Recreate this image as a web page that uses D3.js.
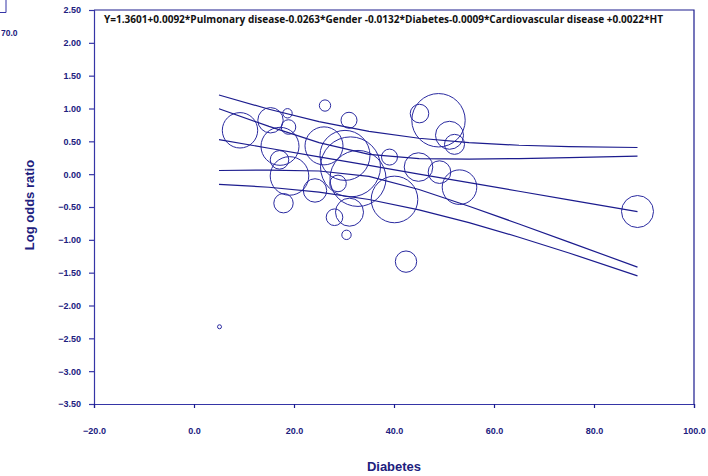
<!DOCTYPE html>
<html>
<head>
<meta charset="utf-8">
<script src="https://cdn.jsdelivr.net/npm/d3@7"></script>
<style>
  html, body { margin: 0; padding: 0; background: #fff; }
  svg { display: block; }
</style>
</head>
<body>
<svg id="chart" width="708" height="476"></svg>
<script>
// ---------- data ----------
const diabetesPct = [9.2, 15.3, 18.7, 18.9, 17.2, 17.1, 19.1, 17.9, 5.1, 26.2, 31.0, 26.0, 30.2, 31.3, 32.8, 28.8,
                     24.2, 31.1, 28.1, 30.5, 39.1, 40.1, 44.9, 49.1, 53.1, 42.4, 45.1, 48.9, 51.1, 52.1, 88.7];
const logOdds     = [0.668, 0.821, 0.927, 0.718, 0.424, 0.218, -0.027, -0.442, -2.324, 1.045, 0.821, 0.431, 0.286, 0.111, -0.065, -0.141,
                     -0.248, -0.579, -0.656, -0.924, 0.260, -0.385, 0.108, 0.031, -0.198, -1.332, 0.923, 0.821, 0.592, 0.454, -0.569];
const studyWeight = [31.3, 16.1, 2.2, 5.3, 36.1, 8.6, 37.2, 9.4, 0.4, 3.2, 6.4, 36.1, 62.5, 90, 78.4, 6.9,
                     13.7, 19.6, 6.9, 2.2, 6.4, 54.3, 20.4, 12.8, 29.9, 11.4, 8.6, 71.3, 19.6, 10, 25.6];

// regression line and bands at sampled Diabetes values
const bandX   = [5, 15, 25, 35, 45, 55, 65, 75, 88.7];
const fitted  = [0.526, 0.395, 0.264, 0.133, 0.002, -0.129, -0.260, -0.391, -0.571];
const upperPI = [1.206, 0.989, 0.801, 0.652, 0.547, 0.480, 0.440, 0.418, 0.406];
const upperCI = [0.996, 0.728, 0.480, 0.301, 0.238, 0.230, 0.238, 0.252, 0.274];
const lowerCI = [0.056, 0.062, 0.048, -0.035, -0.234, -0.488, -0.758, -1.034, -1.416];
const lowerPI = [-0.154, -0.199, -0.273, -0.386, -0.543, -0.738, -0.960, -1.200, -1.548];

const xTicks = [-20, 0, 20, 40, 60, 80, 100];
const yTicks = [2.5, 2.0, 1.5, 1.0, 0.5, 0.0, -0.5, -1.0, -1.5, -2.0, -2.5, -3.0, -3.5];

const equation = "Y=1.3601+0.0092*Pulmonary disease-0.0263*Gender -0.0132*Diabetes-0.0009*Cardiovascular disease +0.0022*HT";
const xTitle = "Diabetes";
const yTitle = "Log odds ratio";
const strayLabel = "70.0";

// ---------- drawing ----------
const svg = d3.select("#chart");
const L = 94, R = 694, T = 10, B = 404;
const navy = "#1c1c8e";
const axisCol = "#3535a6";
const labelCol = "#20207e";

const x = d3.scaleLinear().domain([-20, 100]).range([L, R]);
const y = d3.scaleLinear().domain([-3.5, 2.5]).range([B, T]);
const r = d3.scaleSqrt().domain([0, 90]).range([0, 30]);

// stray fragment at top-left (remnant of neighbouring chart)
svg.append("path").attr("d", "M0,12.5H6V0").attr("fill", "none").attr("stroke", axisCol).attr("stroke-width", 1);
svg.append("text").attr("x", 1).attr("y", 36).attr("text-anchor", "start")
  .attr("font-family", "Liberation Sans, Arial, sans-serif").attr("font-weight", "bold")
  .attr("font-size", 8.5).attr("fill", labelCol).text(strayLabel);

// frame: top and right
svg.append("path").attr("d", `M${L},${T}H${R}V${B}`).attr("fill", "none")
  .attr("stroke", navy).attr("stroke-width", 1.2);

// y axis
const yAxis = d3.axisLeft(y).tickValues(yTicks).tickSize(5).tickPadding(8)
  .tickFormat(d3.format(".2f"));
const gy = svg.append("g").attr("transform", `translate(${L},0)`).call(yAxis);
gy.select(".domain").attr("stroke", axisCol).attr("stroke-width", 1.2);
gy.selectAll(".tick line").attr("stroke", axisCol).attr("stroke-width", 1.2);
gy.selectAll(".tick text").attr("font-family", "Liberation Sans, Arial, sans-serif")
  .attr("font-weight", "bold").attr("font-size", 9).attr("fill", labelCol);

// x axis
const xAxis = d3.axisBottom(x).tickValues(xTicks).tickSize(4).tickPadding(20)
  .tickFormat(d3.format(".1f"));
const gx = svg.append("g").attr("transform", `translate(0,${B})`).call(xAxis);
gx.select(".domain").attr("stroke", axisCol).attr("stroke-width", 1.2);
gx.selectAll(".tick line").attr("stroke", navy).attr("stroke-width", 1.2);
gx.selectAll(".tick text").attr("font-family", "Liberation Sans, Arial, sans-serif")
  .attr("font-weight", "bold").attr("font-size", 9).attr("fill", labelCol);

// equation
svg.append("text").attr("x", 104).attr("y", 23)
  .attr("font-family", "Open Sans, Liberation Sans, sans-serif").attr("font-weight", "bold")
  .attr("font-size", 10).attr("fill", "#111")
  .attr("textLength", 559).attr("lengthAdjust", "spacingAndGlyphs")
  .text(equation);

// axis titles
svg.append("text").attr("x", 394).attr("y", 471).attr("text-anchor", "middle")
  .attr("font-family", "Liberation Sans, Arial, sans-serif").attr("font-weight", "bold")
  .attr("font-size", 13).attr("fill", labelCol).text(xTitle);
svg.append("text").attr("transform", "translate(34,205) rotate(-90)").attr("text-anchor", "middle")
  .attr("font-family", "Liberation Sans, Arial, sans-serif").attr("font-weight", "bold")
  .attr("font-size", 13).attr("fill", labelCol).text(yTitle);

// bubbles
const pts = diabetesPct.map((d, i) => ({ x: d, y: logOdds[i], w: studyWeight[i] }));
svg.append("g").selectAll("circle").data(pts).join("circle")
  .attr("cx", d => x(d.x)).attr("cy", d => y(d.y)).attr("r", d => r(d.w))
  .attr("fill", "none").attr("stroke", "#2a2aa0").attr("stroke-width", 1);

// regression line and bands
const line = d3.line().x(d => x(d[0])).y(d => y(d[1]));
[upperPI, upperCI, fitted, lowerCI, lowerPI].forEach(series => {
  svg.append("path").datum(bandX.map((xv, i) => [xv, series[i]]))
    .attr("d", line).attr("fill", "none").attr("stroke", navy).attr("stroke-width", 1.2);
});
</script>
</body>
</html>
